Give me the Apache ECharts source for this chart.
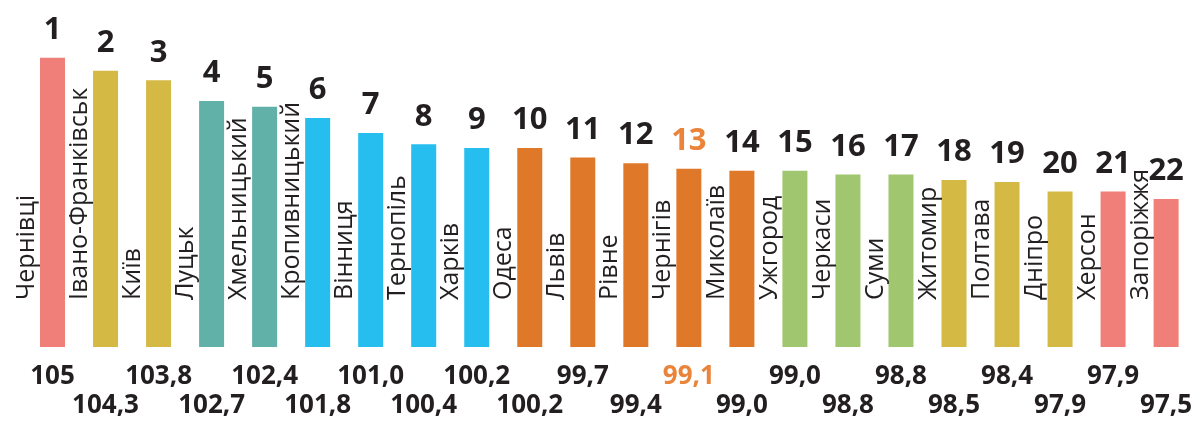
<!DOCTYPE html>
<html>
<head>
<meta charset="utf-8">
<script src="https://cdn.jsdelivr.net/npm/echarts@6/dist/echarts.min.js"></script>
<style>
  html, body { margin: 0; padding: 0; background: #ffffff; }
  #chart { width: 1195px; height: 430px; }
</style>
</head>
<body>
<div id="chart"></div>
<script>
// ---- data ----
const cities = ['Чернівці', 'Івано-Франківськ', 'Київ', 'Луцьк', 'Хмельницький', 'Кропивницький',
  'Вінниця', 'Тернопіль', 'Харків', 'Одеса', 'Львів', 'Рівне', 'Чернігів', 'Миколаїв',
  'Ужгород', 'Черкаси', 'Суми', 'Житомир', 'Полтава', 'Дніпро', 'Херсон', 'Запоріжжя'];
const values = [105, 104.3, 103.8, 102.7, 102.4, 101.8, 101.0, 100.4, 100.2, 100.2, 99.7,
  99.4, 99.1, 99.0, 99.0, 98.8, 98.8, 98.5, 98.4, 97.9, 97.9, 97.5];
const valueLabels = ['105', '104,3', '103,8', '102,7', '102,4', '101,8', '101,0', '100,4', '100,2',
  '100,2', '99,7', '99,4', '99,1', '99,0', '99,0', '98,8', '98,8', '98,5', '98,4', '97,9', '97,9', '97,5'];
const ranks = ['1', '2', '3', '4', '5', '6', '7', '8', '9', '10', '11', '12', '13', '14', '15', '16',
  '17', '18', '19', '20', '21', '22'];
const groups = ['red', 'yellow', 'yellow', 'teal', 'teal', 'blue', 'blue', 'blue', 'blue',
  'orange', 'orange', 'orange', 'orange', 'orange', 'green', 'green', 'green',
  'yellow', 'yellow', 'yellow', 'red', 'red'];
const highlightCity = 'Чернігів';

// ---- styles ----
const groupColors = {
  red: '#EF7F78', yellow: '#D5B945', teal: '#61B1A8', blue: '#26BEEE',
  orange: '#E07829', green: '#A0C66F'
};
const textColor = '#231F20';
const hiColor = '#E9843A';
const numFont = '"Open Sans", sans-serif';
const nameFont = '"Open Sans", sans-serif';

const chart = echarts.init(document.getElementById('chart'), null, { renderer: 'canvas' });

const barData = values.map((v, i) => ({
  value: v,
  itemStyle: { color: groupColors[groups[i]] },
  label: { color: cities[i] === highlightCity ? hiColor : textColor }
}));

function valueLabelAxis(parity, margin) {
  return {
    type: 'category',
    data: cities,
    position: 'bottom',
    gridIndex: 0,
    axisLine: { show: false },
    axisTick: { show: false },
    axisLabel: {
      interval: 0,
      margin: margin,
      fontFamily: numFont,
      fontWeight: 'bold',
      fontSize: 26,
      color: textColor,
      formatter: function (val, idx) {
        if (idx % 2 !== parity) return '';
        return cities[idx] === highlightCity ? '{h|' + valueLabels[idx] + '}' : valueLabels[idx];
      },
      rich: {
        h: { color: hiColor, fontFamily: numFont, fontWeight: 'bold', fontSize: 26 }
      }
    }
  };
}

const option = {
  backgroundColor: '#ffffff',
  animation: false,
  grid: { left: 26, width: 1172, top: 20, bottom: 83, containLabel: false },
  xAxis: [valueLabelAxis(0, 17), valueLabelAxis(1, 46)],
  yAxis: { type: 'value', min: 89.64, max: 107, show: false, splitLine: { show: false } },
  series: [
    {
      type: 'bar',
      xAxisIndex: 0,
      barWidth: 25,
      data: barData,
      label: {
        show: true,
        position: 'top',
        distance: 12,
        fontFamily: numFont,
        fontWeight: 'bold',
        fontSize: 31,
        formatter: p => ranks[p.dataIndex]
      }
    },
    {
      type: 'bar',
      xAxisIndex: 0,
      barWidth: 25,
      barGap: '-100%',
      data: values,
      itemStyle: { color: 'rgba(0,0,0,0)' },
      silent: true,
      label: {
        show: true,
        position: 'insideBottom',
        distance: 0,
        rotate: 90,
        align: 'left',
        verticalAlign: 'bottom',
        offset: [47, -13],
        fontFamily: nameFont,
        fontSize: 25,
        color: textColor,
        formatter: p => cities[p.dataIndex]
      }
    }
  ]
};
chart.setOption(option);
</script>
</body>
</html>
